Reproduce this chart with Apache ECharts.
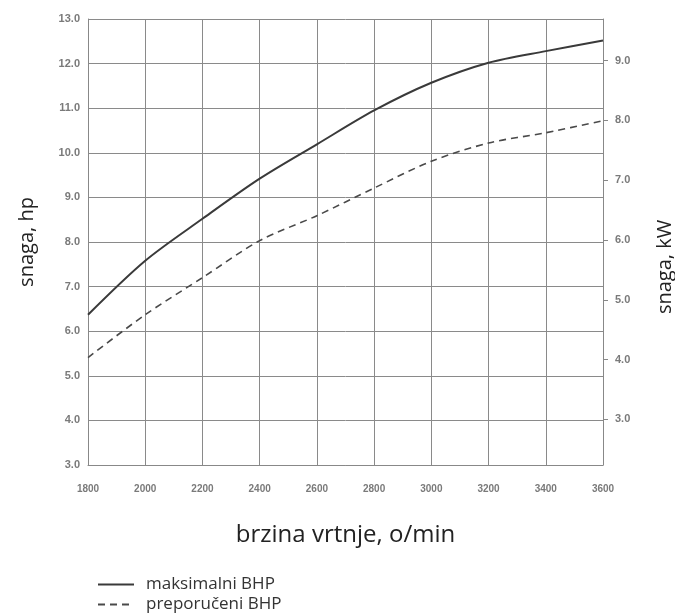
<!DOCTYPE html>
<html><head><meta charset="utf-8">
<script src="https://cdn.jsdelivr.net/npm/echarts@6/dist/echarts.min.js"></script>
<style>html,body{margin:0;padding:0;background:#fff;overflow:hidden}#c{width:675px;height:615px}</style>
</head><body><div id="c"></div>
<script>
const rpm = [1800, 2000, 2200, 2400, 2600, 2800, 3000, 3200, 3400, 3600];
const maxBHP = [6.37, 7.58, 8.52, 9.42, 10.19, 10.95, 11.57, 12.02, 12.28, 12.52];
const recBHP = [5.41, 6.37, 7.2, 8.03, 8.59, 9.21, 9.81, 10.22, 10.45, 10.72];
const kwTicks = [3, 4, 5, 6, 7, 8, 9];
const HP_TO_KW = 0.7457;
const hpMin = 3, hpMax = 13;

const chart = echarts.init(document.getElementById('c'));
const labelStyle = {color: '#7a7a7a', fontFamily: 'Liberation Sans', fontSize: 11, fontWeight: 'bold'};
chart.setOption({
  animation: false,
  grid: {left: 88, right: 72, top: 19, bottom: 150, outerBoundsMode: 'none', containLabel: false},
  legend: {
    orient: 'vertical', left: 92, bottom: -3, itemGap: 3, itemWidth: 36, itemHeight: 12,
    itemStyle: {opacity: 0},
    textStyle: {fontFamily: 'Open Sans', fontSize: 17, color: '#333', padding: [0, 0, 0, 7]},
    data: ['maksimalni BHP', 'preporučeni BHP']
  },
  xAxis: {
    type: 'value', min: 1800, max: 3600, interval: 200,
    name: 'brzina vrtnje, o/min', nameLocation: 'middle', nameGap: 58,
    nameTextStyle: {fontFamily: 'Open Sans', fontSize: 24, color: '#222'},
    axisLine: {show: true, lineStyle: {color: '#888'}},
    axisTick: {show: false},
    axisLabel: Object.assign({margin: 19, formatter: v => String(v)}, labelStyle, {fontSize: 10}),
    splitLine: {show: true, lineStyle: {color: '#8a8a8a', width: 1}}
  },
  yAxis: [{
    type: 'value', min: hpMin, max: hpMax, interval: 1,
    name: 'snaga, hp', nameLocation: 'middle', nameGap: 51, nameRotate: 90,
    nameTextStyle: {fontFamily: 'Open Sans', fontSize: 20, color: '#222'},
    axisLine: {show: true, lineStyle: {color: '#888'}},
    axisTick: {show: false},
    axisLabel: Object.assign({margin: 8, formatter: v => v.toFixed(1)}, labelStyle),
    splitLine: {show: true, lineStyle: {color: '#8a8a8a', width: 1}}
  }, {
    type: 'value', min: hpMin * HP_TO_KW, max: hpMax * HP_TO_KW, position: 'right',
    name: 'snaga, kW', nameLocation: 'middle', nameGap: 52, nameRotate: 90,
    nameTextStyle: {fontFamily: 'Open Sans', fontSize: 20, color: '#222', padding: [0, 50, 0, 0]},
    axisLine: {show: true, lineStyle: {color: '#888'}},
    axisTick: {show: true, length: 5, customValues: kwTicks, lineStyle: {color: '#888'}},
    axisLabel: Object.assign({margin: 12, customValues: kwTicks, formatter: v => (+v).toFixed(1)}, labelStyle),
    splitLine: {show: false}
  }],
  series: [{
    name: 'maksimalni BHP', type: 'line', smooth: 0.3, symbol: 'none',
    lineStyle: {color: '#3a3a3a', width: 2},
    itemStyle: {color: '#3a3a3a'},
    data: rpm.map((r, i) => [r, maxBHP[i]])
  }, {
    name: 'preporučeni BHP', type: 'line', smooth: 0.3, symbol: 'none',
    lineStyle: {color: '#4a4a4a', width: 1.6, type: [7, 5]},
    itemStyle: {color: '#4a4a4a'},
    data: rpm.map((r, i) => [r, recBHP[i]])
  }]
});
</script></body></html>
